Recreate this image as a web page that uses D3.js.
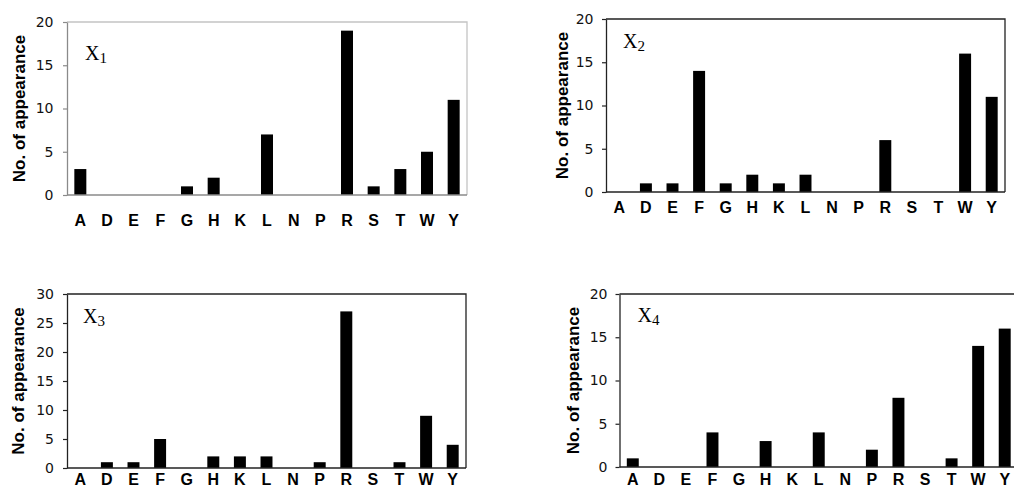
<!DOCTYPE html>
<html>
<head>
<meta charset="utf-8">
<script src="https://cdn.jsdelivr.net/npm/d3@7/dist/d3.min.js"></script>
<style>
  html, body { margin: 0; padding: 0; background: #fff; }
  svg { display: block; }
</style>
</head>
<body>
<svg id="chart" width="1014" height="489"></svg>
<script>
// ---------- DATA ----------
const categories = ["A","D","E","F","G","H","K","L","N","P","R","S","T","W","Y"];
const x1Values = [3,0,0,0,1,2,0,7,0,0,19,1,3,5,11];
const x2Values = [0,1,1,14,1,2,1,2,0,0,6,0,0,16,11];
const x3Values = [0,1,1,5,0,2,2,2,0,1,27,0,1,9,4];
const x4Values = [1,0,0,4,0,3,0,4,0,2,8,0,1,14,16];
const ticks20 = [0,5,10,15,20];
const ticks30 = [0,5,10,15,20,25,30];
const panelNames = ["1","2","3","4"];
const yAxisTitle = "No. of appearance";

// ---------- LAYOUT ----------
const panels = [
  {values: x1Values, ticks: ticks20, max: 20, name: panelNames[0],
   left: 67, right: 467, top: 22, bottom: 195, labelPad: 19.5, titleX: 19,
   nameDx: 18, nameDy: 38, tickPad: 9.5,
   frame: "#c4c4c4", axis: "#8a8a8a"},
  {values: x2Values, ticks: ticks20, max: 20, name: panelNames[1],
   left: 606, right: 1005, top: 19, bottom: 192, labelPad: 10, titleX: 562,
   nameDx: 17, nameDy: 29, tickPad: 8.5,
   frame: "#222", axis: "#222"},
  {values: x3Values, ticks: ticks30, max: 30, name: panelNames[2],
   left: 67, right: 466, top: 294, bottom: 468, labelPad: 5.5, titleX: 18,
   nameDx: 16, nameDy: 29, tickPad: 9,
   frame: "#222", axis: "#222"},
  {values: x4Values, ticks: ticks20, max: 20, name: panelNames[3],
   left: 619.5, right: 1018, top: 294, bottom: 467, labelPad: 6.5, titleX: 573,
   nameDx: 18, nameDy: 28, tickPad: 8,
   frame: "#222", axis: "#222"}
];

const svg = d3.select("#chart");

panels.forEach(p => {
  const x = d3.scaleBand().domain(categories).range([p.left, p.right]).paddingInner(0.55).paddingOuter(0.275);
  const y = d3.scaleLinear().domain([0, p.max]).range([p.bottom, p.top]);
  const g = svg.append("g");

  // frame (top & right)
  g.append("path")
    .attr("d", `M${p.left},${p.top}H${p.right}V${p.bottom}`)
    .attr("fill", "none").attr("stroke", p.frame).attr("stroke-width", 1.3);

  // bars
  g.selectAll("rect.bar").data(categories.map((c, i) => ({c, v: p.values[i]})))
    .join("rect")
    .attr("class", "bar")
    .attr("x", d => x(d.c))
    .attr("width", x.bandwidth())
    .attr("y", d => y(d.v))
    .attr("height", d => y(0) - y(d.v))
    .attr("fill", "#000");

  // y axis
  const ya = g.append("g").attr("transform", `translate(${p.left},0)`)
    .call(d3.axisLeft(y).tickValues(p.ticks).tickSize(4).tickSizeOuter(0).tickPadding(p.tickPad));
  ya.select(".domain").attr("stroke", p.axis).attr("stroke-width", 1.3);
  ya.selectAll(".tick line").attr("stroke", p.axis).attr("stroke-width", 1.2);
  ya.selectAll(".tick text")
    .attr("font-family", "'DejaVu Sans', 'Liberation Sans', Arial, sans-serif")
    .attr("font-size", 14).attr("fill", "#111");

  // x axis
  const xa = g.append("g").attr("transform", `translate(0,${p.bottom})`)
    .call(d3.axisBottom(x).tickSize(0).tickSizeOuter(0).tickPadding(p.labelPad));
  xa.select(".domain").attr("stroke", p.axis).attr("stroke-width", 1.3)
    .attr("d", `M${p.left},0H${p.right}`);
  xa.selectAll(".tick text")
    .attr("font-family", "'Liberation Sans', Arial, sans-serif")
    .attr("font-weight", "bold")
    .attr("font-size", 16).attr("fill", "#000");

  // y title
  g.append("text")
    .attr("transform", `translate(${p.titleX},${(p.top + p.bottom) / 2}) rotate(-90)`)
    .attr("text-anchor", "middle")
    .attr("dominant-baseline", "central")
    .attr("font-family", "'Liberation Sans', Arial, sans-serif")
    .attr("font-weight", "bold")
    .attr("font-size", 17)
    .text(yAxisTitle);

  // panel label X_n
  const t = g.append("text")
    .attr("x", p.left + p.nameDx)
    .attr("y", p.top + p.nameDy)
    .attr("font-family", "'Liberation Serif', 'Times New Roman', serif")
    .attr("font-size", 20);
  t.append("tspan").text("X");
  t.append("tspan").attr("font-size", 15).attr("dy", 3).text(p.name);
});
</script>
</body>
</html>
